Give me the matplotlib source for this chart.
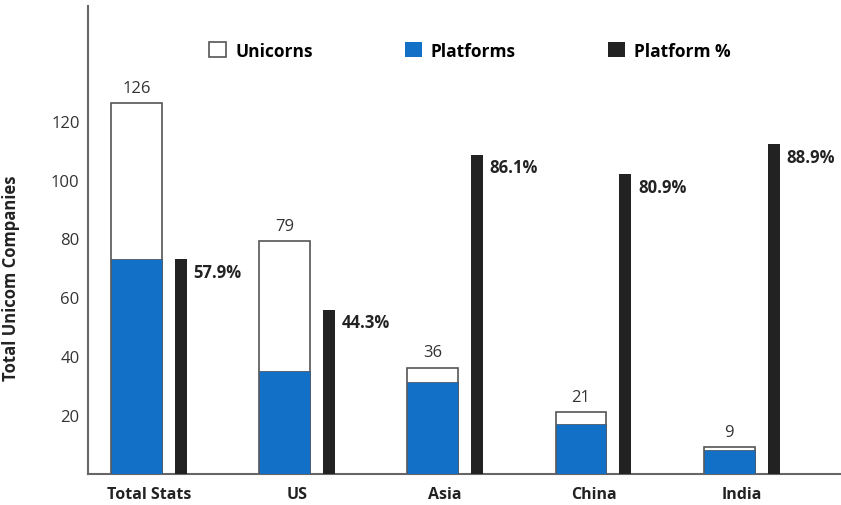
import matplotlib.pyplot as plt
import numpy as np
from matplotlib.patches import Patch

plt.rcParams['font.family'] = ['Open Sans', 'DejaVu Sans']

regions = ['Total Stats', 'US', 'Asia', 'China', 'India']
unicorns = [126, 79, 36, 21, 9]
platforms = [73, 35, 31, 17, 8]
platform_pct = [57.9, 44.3, 86.1, 80.9, 88.9]

blue = '#1270c6'
black = '#222222'
edge = '#555555'

fig = plt.figure(figsize=(8.41, 5.06), dpi=100)
ax = fig.add_axes([0.1046, 0.062, 0.8954, 0.924])
x = np.arange(len(regions))

# unicorn totals (outline) with platform share filled in blue
ax.bar(x - 0.084, unicorns, width=0.344, color='white', edgecolor=edge, linewidth=1.2, zorder=2)
ax.bar(x - 0.084, platforms, width=0.344, color=blue, edgecolor='#4a5a6a', linewidth=0.6, zorder=3)
for xi, v in zip(x, unicorns):
    ax.text(xi - 0.084, v + 2.5, str(v), ha='center', va='bottom', fontsize=12, color='#333333')

ax.set_xlim(-0.41, 4.67)
ax.set_ylim(0, 159)
ax.set_yticks([20, 40, 60, 80, 100, 120])
ax.tick_params(axis='y', length=0, pad=6, labelsize=12, labelcolor='#333333')
ax.set_xticks(x)
ax.set_xticklabels(regions, fontsize=11.5, fontweight='bold', color='#222222')
ax.tick_params(axis='x', length=0, pad=9)
ax.set_ylabel('Total Unicom Companies', fontsize=12, fontweight='bold', color='#222222')
ax.yaxis.set_label_coords(-0.09, 0.42)
for s in ['top', 'right']:
    ax.spines[s].set_visible(False)
for s in ['left', 'bottom']:
    ax.spines[s].set_color('#666666')
    ax.spines[s].set_linewidth(1.5)

# percentage bars on their own hidden scale
ax2 = ax.twinx()
ax2.set_ylim(0, 126.2)
ax2.bar(x + 0.216, platform_pct, width=0.081, color=black, zorder=3)
for xi, p in zip(x, platform_pct):
    ax2.text(xi + 0.3, p - 1.0, f'{p}%', ha='left', va='top', fontsize=12, fontweight='bold', color='#222222')
ax2.set_yticks([])
for s in ax2.spines.values():
    s.set_visible(False)

handles = [Patch(facecolor='white', edgecolor=edge, linewidth=1.2),
           Patch(facecolor=blue),
           Patch(facecolor=black)]
ax2.legend(handles, ['Unicorns', 'Platforms', 'Platform %'], ncol=3, loc='center',
           bbox_to_anchor=(0.507, 0.905), frameon=False, handlelength=1.0, handleheight=1.0,
           handletextpad=0.5, columnspacing=5.3, prop={'weight': 'bold', 'size': 12.5})

fig.savefig('out.png', dpi=100)
